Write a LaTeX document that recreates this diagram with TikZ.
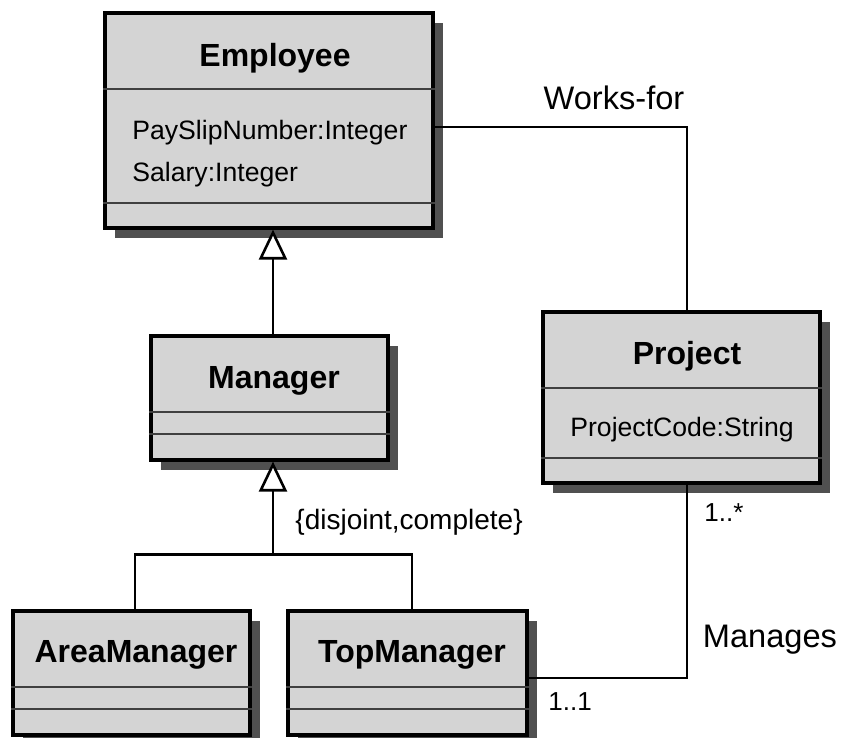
\documentclass[tikz,border=0pt]{standalone}
\usepackage{fontspec}
\setmainfont{Liberation Sans}
\usetikzlibrary{arrows.meta,fit,shadows}

\definecolor{boxgray}{RGB}{212,212,212}
\definecolor{shadegray}{RGB}{80,80,80}
\definecolor{rulegray}{RGB}{64,64,64}

\begin{document}
\begin{tikzpicture}[x=0.5pt,y=-0.5pt,
  classbox/.style={draw=black, line width=1.6pt, fill=boxgray, inner sep=0pt,
    drop shadow={shadow xshift=5pt, shadow yshift=-5pt, fill=shadegray, opacity=1}},
  classname/.style={font=\fontsize{16}{19}\selectfont\bfseries, anchor=base, inner sep=0pt},
  attr/.style={font=\fontsize{13.3}{16}\selectfont, anchor=base west, inner sep=0pt},
  divider/.style={draw=rulegray, line width=0.8pt},
  assoc/.style={draw=black, line width=1.3pt},
  generalize/.style={assoc, -{Triangle[open, length=15pt, width=14pt, fill=white]}},
  rolelabel/.style={font=\fontsize{16.3}{19}\selectfont, anchor=base, inner sep=0pt},
  mult/.style={font=\fontsize{13}{15}\selectfont, anchor=base west, inner sep=0pt}]

\useasboundingbox (0,0) rectangle (843,738);

%% class boxes
\node[classbox, fit={(105,13) (433,228)}] (Employee) {};
\node[classbox, fit={(151,336) (388,460)}] (Manager) {};
\node[classbox, fit={(543,312) (820,483)}] (Project) {};
\node[classbox, fit={(13,611) (250,735)}] (AreaManager) {};
\node[classbox, fit={(288,611) (527,735)}] (TopManager) {};

%% compartments
\draw[divider] (Employee.west |- 0,89) -- (Employee.east |- 0,89);
\draw[divider] (Employee.west |- 0,203) -- (Employee.east |- 0,203);
\draw[divider] (Manager.west |- 0,412) -- (Manager.east |- 0,412);
\draw[divider] (Manager.west |- 0,434) -- (Manager.east |- 0,434);
\draw[divider] (Project.west |- 0,388) -- (Project.east |- 0,388);
\draw[divider] (Project.west |- 0,458) -- (Project.east |- 0,458);
\draw[divider] (AreaManager.west |- 0,687) -- (AreaManager.east |- 0,687);
\draw[divider] (AreaManager.west |- 0,709) -- (AreaManager.east |- 0,709);
\draw[divider] (TopManager.west |- 0,687) -- (TopManager.east |- 0,687);
\draw[divider] (TopManager.west |- 0,709) -- (TopManager.east |- 0,709);

%% names and attributes
\node[classname] (employeename) at (275,67) {Employee};
\node[attr] (payslip) at (132,140) {PaySlipNumber:Integer};
\node[attr] (salary) at (132,182) {Salary:Integer};
\node[classname] (managername) at (274,389) {Manager};
\node[classname] (projectname) at (687,365) {Project};
\node[attr, anchor=base] (projectcode) at (682,437) {ProjectCode:String};
\node[classname] (areaname) at (136,663) {AreaManager};
\node[classname] (topname) at (412,663) {TopManager};

%% connectors
\coordinate (managertop) at ([xshift=1.75pt]Manager.north);
\coordinate (managerfoot) at ([xshift=1.75pt]Manager.south);
\coordinate (projecttop) at ([xshift=2.75pt]Project.north);
\coordinate (projectfoot) at ([xshift=2.75pt]Project.south);
\coordinate (areatop) at ([xshift=1.75pt]AreaManager.north);
\coordinate (toptop) at ([xshift=2.25pt]TopManager.north);
\path (managerfoot) ++(0,93) coordinate (fork);
\coordinate (worksrow) at (0,127);
\coordinate (managesrow) at (0,678);

\draw[generalize] (managertop) -- (managertop |- Employee.south);
\draw[generalize] (fork) -- (managerfoot);
\draw[assoc] (areatop) |- (fork) -| (toptop);
\draw[assoc] (Employee.east |- worksrow) -| (projecttop);
\draw[assoc] (TopManager.east |- managesrow) -| (projectfoot);

%% labels
\node[rolelabel] (worksfor) at (614,110) {Works-for};
\node[rolelabel] (manages) at (770,648) {Manages};
\node[mult] (manymult) at (704,522) {1..*};
\node[mult] (onemult) at (548,711) {1..1};
\node[attr, font=\fontsize{14}{17}\selectfont] (constraint) at (295,530) {\{disjoint,complete\}};

\end{tikzpicture}
\end{document}
